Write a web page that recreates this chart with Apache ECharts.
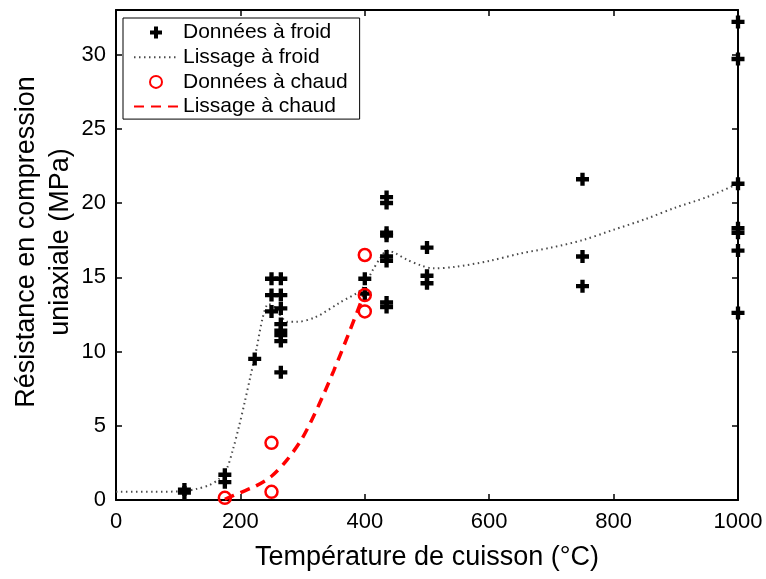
<!DOCTYPE html>
<html>
<head>
<meta charset="utf-8">
<script src="https://cdn.jsdelivr.net/npm/echarts@6/dist/echarts.min.js"></script>
<style>
  html, body { margin: 0; padding: 0; background: #fff; }
  #chart { width: 766px; height: 579px; }
</style>
</head>
<body>
<div id="chart"></div>
<script>
// Cold-fired samples: [firing temperature (°C), strength (MPa)]
var coldData = [
  [110, 0.5], [110, 0.7],
  [175, 1.2], [175, 1.7],
  [223, 9.5],
  [250, 14.9], [250, 13.8], [250, 12.7],
  [265, 14.9], [265, 13.8], [265, 12.9], [265, 11.85], [265, 11.4], [265, 11.1], [265, 10.7], [265, 8.6],
  [400, 14.9], [400, 13.9],
  [435, 20.4], [435, 20.0], [435, 18.0], [435, 17.8], [435, 16.4], [435, 16.1], [435, 13.3], [435, 13.0],
  [500, 17.0], [500, 15.1], [500, 14.6],
  [750, 21.6], [750, 16.4], [750, 14.4],
  [1000, 32.2], [1000, 29.7], [1000, 21.3], [1000, 18.3], [1000, 18.0], [1000, 16.8], [1000, 12.6]
];

// Smoothed trend of the cold-fired samples
var coldFit = [
  [0, 0.55], [60, 0.55], [110, 0.6], [130, 0.75], [150, 1.0], [165, 1.4], [178, 2.1],
  [188, 3.4], [198, 5.0], [207, 6.6], [216, 8.3], [226, 10.2], [236, 12.3], [245, 13.2],
  [255, 13.0], [265, 12.4], [275, 12.0], [290, 12.0], [320, 12.3], [360, 13.3], [395, 14.2],
  [413, 15.5], [425, 16.3], [436, 16.8], [450, 16.6], [467, 16.2], [490, 15.8], [510, 15.6],
  [545, 15.7], [600, 16.1], [650, 16.6], [700, 17.0], [750, 17.5], [800, 18.2], [850, 18.9],
  [900, 19.7], [950, 20.4], [1000, 21.3]
];

// Hot-fired samples
var hotData = [
  [175, 0.15], [250, 3.85], [250, 0.55], [400, 16.5], [400, 13.8], [400, 12.7]
];

// Smoothed trend of the hot-fired samples
var hotFit = [
  [175, 0.05], [200, 0.5], [225, 0.95], [250, 1.6], [275, 2.7], [300, 4.2],
  [325, 6.3], [350, 8.7], [375, 11.3], [400, 14.0]
];

var seriesNames = ['Données à froid', 'Lissage à froid', 'Données à chaud', 'Lissage à chaud'];
var xLabel = 'Température de cuisson (°C)';
var yLabel = 'Résistance en compression\nuniaxiale (MPa)';

var FONT = 'Liberation Sans, Arial, Helvetica, sans-serif';
var PLUS = 'path://M4,0H8V4H12V8H8V12H4V8H0V4H4Z';

var tickStyle = { inside: true, length: 6, lineStyle: { color: '#000', width: 1.5 } };
var lineStyle = { show: true, onZero: false, lineStyle: { color: '#000', width: 2 } };
var plainNumber = function (v) { return String(v); };

var chart = echarts.init(document.getElementById('chart'), null, { renderer: 'canvas' });
chart.setOption({
  animation: false,
  backgroundColor: '#fff',
  grid: { left: 116, right: 28, top: 10, bottom: 79, containLabel: false },
  legend: {
    orient: 'vertical',
    left: 123, top: 18,
    padding: [4, 12, 2, 10],
    itemWidth: 44, itemHeight: 12, itemGap: 3.7,
    backgroundColor: '#fff', borderColor: '#000', borderWidth: 1,
    textStyle: { fontFamily: FONT, fontSize: 21, color: '#000', lineHeight: 20 },
    data: [
      { name: seriesNames[0] },
      { name: seriesNames[1], itemStyle: { opacity: 0 } },
      { name: seriesNames[2] },
      { name: seriesNames[3], itemStyle: { opacity: 0 } }
    ]
  },
  xAxis: [
    {
      type: 'value', min: 0, max: 1000, interval: 200, position: 'bottom',
      name: xLabel, nameLocation: 'middle', nameGap: 44, nameMoveOverlap: false,
      nameTextStyle: { fontFamily: FONT, fontSize: 27, color: '#000' },
      axisLine: lineStyle, axisTick: tickStyle, splitLine: { show: false },
      axisLabel: { fontFamily: FONT, fontSize: 22, color: '#000', margin: 11, formatter: plainNumber }
    },
    {
      type: 'value', min: 0, max: 1000, interval: 200, position: 'top',
      axisLine: lineStyle, axisTick: tickStyle, splitLine: { show: false },
      axisLabel: { show: false }
    }
  ],
  yAxis: [
    {
      type: 'value', min: 0, max: 33, interval: 5, position: 'left',
      name: yLabel, nameLocation: 'middle', nameGap: 38, nameMoveOverlap: false,
      nameTextStyle: {
        fontFamily: FONT, fontSize: 27, color: '#000', lineHeight: 34,
        padding: [0, 0, 0, 26]
      },
      axisLine: lineStyle, axisTick: tickStyle, splitLine: { show: false },
      axisLabel: {
        fontFamily: FONT, fontSize: 22, color: '#000', margin: 10, showMaxLabel: false,
        formatter: function (v) { return v % 5 === 0 ? String(v) : ''; }
      }
    },
    {
      type: 'value', min: 0, max: 33, interval: 5, position: 'right',
      axisLine: lineStyle, axisTick: tickStyle, splitLine: { show: false },
      axisLabel: { show: false }
    }
  ],
  series: [
    {
      name: seriesNames[0], type: 'scatter', data: coldData,
      symbol: PLUS, symbolSize: 13, clip: false,
      itemStyle: { color: '#000', opacity: 1 }, z: 3
    },
    {
      name: seriesNames[1], type: 'line', data: coldFit,
      symbol: 'none', smooth: 0.3,
      lineStyle: { color: '#4a4a4a', width: 2, type: [1.5, 3.5] },
      itemStyle: { color: '#4a4a4a' }, z: 2
    },
    {
      name: seriesNames[2], type: 'scatter', data: hotData,
      symbol: 'circle', symbolSize: 12, clip: false,
      itemStyle: { color: 'rgba(0,0,0,0)', borderColor: '#ff0000', borderWidth: 2.5, opacity: 1 }, z: 4
    },
    {
      name: seriesNames[3], type: 'line', data: hotFit,
      symbol: 'none', smooth: 0.3,
      lineStyle: { color: '#ff0000', width: 3.5, type: [10, 7] },
      itemStyle: { color: '#ff0000' }, z: 2
    }
  ]
});
</script>
</body>
</html>
